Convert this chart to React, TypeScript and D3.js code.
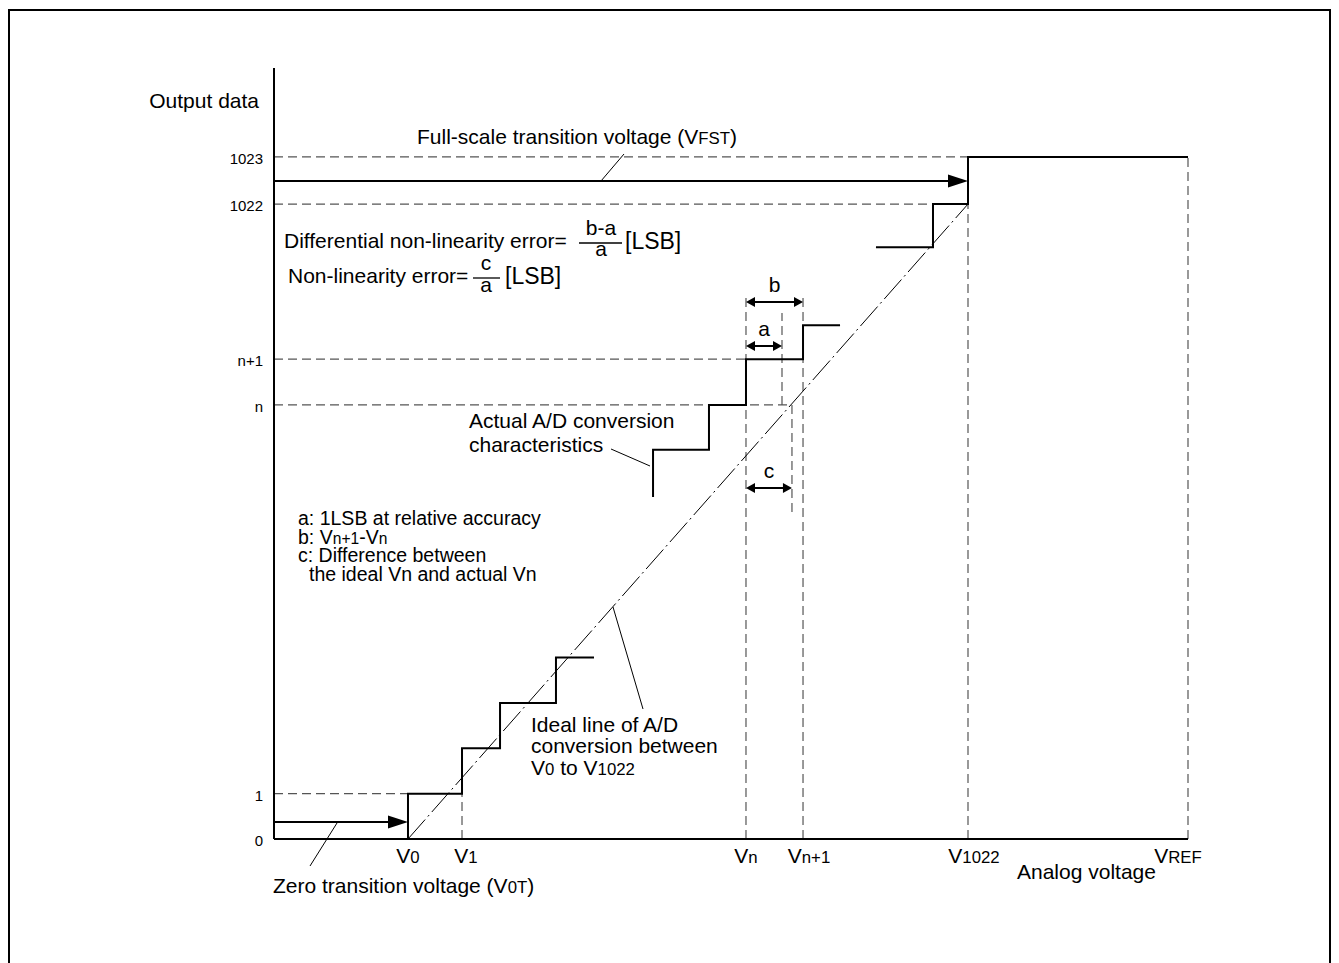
import React from 'react';
import * as d3 from 'd3';

// ---- chart units: x = analog voltage in % of VREF, y = output level (diagram steps)
const xDomain: [number, number] = [0, 100];
const yDomain: [number, number] = [0, 17];

const xTickBase = ['V', 'V', 'V', 'V', 'V', 'V'];
const xTickSubs = ['0', '1', 'n', 'n+1', '1022', 'REF'];
const xTickValues = [14.66, 20.57, 51.64, 57.88, 75.93, 100];

const yTickLabels = ['0', '1', 'n', 'n+1', '1022', '1023'];
const yTickValues = [0, 1, 9.57, 10.58, 14.0, 15.04];

// actual A/D conversion characteristic (three visible pieces)
const lowerStair: [number, number][] = [
  [14.66, 0], [14.66, 1], [20.57, 1], [20.57, 2], [24.73, 2], [24.73, 3], [30.85, 3], [30.85, 4], [35.01, 4],
];
const middleStair: [number, number][] = [
  [41.47, 7.54], [41.47, 8.58], [47.59, 8.58], [47.59, 9.57], [51.64, 9.57], [51.64, 10.58], [57.88, 10.58], [57.88, 11.33], [61.93, 11.33],
];
const upperStair: [number, number][] = [
  [65.86, 13.05], [72.1, 13.05], [72.1, 14.0], [75.93, 14.0], [75.93, 15.04], [100, 15.04],
];
// ideal line between V0 and V1022
const idealLine: [number, number][] = [[14.66, 0], [75.93, 14.0]];

// dashed guides: horizontal [y, x0, x1], vertical [x, y0, y1]
const guideH: [number, number, number][] = [
  [15.04, 0, 100], [14.0, 0, 72.1], [10.58, 0, 51.64], [9.57, 0, 56.67], [1, 0, 14.66],
];
const guideV: [number, number, number][] = [
  [20.57, 0, 1], [51.64, 0, 12.04], [57.88, 0, 12.04], [55.58, 9.57, 11.6], [56.67, 7.21, 9.57], [75.93, 0, 14.0], [100, 0, 15.04],
];
// transition-voltage arrows [y, x0, x1]
const bigArrows: [number, number, number][] = [[14.51, 0, 75.93], [0.375, 0, 14.66]];
// dimension arrows
const dimNames = ['b', 'a', 'c'];
const dimArrows: [number, number, number][] = [[11.84, 51.64, 57.88], [10.87, 51.64, 55.58], [7.74, 51.64, 56.67]];

const W = 1339;
const H = 963;
const FONT = '"Liberation Sans", Arial, Helvetica, sans-serif';

const x = d3.scaleLinear().domain(xDomain).range([274, 1188]);
const y = d3.scaleLinear().domain(yDomain).range([839, 68]);

const line = d3.line<[number, number]>().x((d) => x(d[0])).y((d) => y(d[1]));

// small label nudges for the x tick labels (layout only)
const xLabelNudge = [0, 4, 0, 6, 6, -10];

function Sub({ base, sub }: { base: string; sub: string }) {
  return (
    <>
      <tspan>{base}</tspan>
      <tspan fontSize="0.8em">{sub}</tspan>
    </>
  );
}

export default function App() {
  const dash = '9,5';
  const dashColor = '#555';

  const arrowHead = (tx: number, ty: number, dir: number, len: number, hw: number) =>
    `M${tx},${ty}L${tx - dir * len},${ty - hw}L${tx - dir * len},${ty + hw}Z`;

  return (
    <svg
      width={W}
      height={H}
      style={{ position: 'absolute', left: 0, top: 0, display: 'block', background: '#fff' }}
      fontFamily={FONT}
    >
      <rect x={9} y={10} width={1321} height={1000} fill="none" stroke="#000" strokeWidth={2} />

      {/* dashed guides */}
      {guideH.map(([yy, x0, x1], i) => (
        <line key={'h' + i} x1={x(x0)} x2={x(x1)} y1={y(yy)} y2={y(yy)} stroke={dashColor} strokeWidth={1.2} strokeDasharray={dash} />
      ))}
      {guideV.map(([xx, y0, y1], i) => (
        <line key={'v' + i} x1={x(xx)} x2={x(xx)} y1={y(y0)} y2={y(y1)} stroke={dashColor} strokeWidth={1.2} strokeDasharray={dash} />
      ))}

      {/* ideal line */}
      <path d={line(idealLine) || ''} fill="none" stroke="#000" strokeWidth={1} strokeDasharray="26,4,2,4" />

      {/* actual stairs */}
      {[lowerStair, middleStair, upperStair].map((s, i) => (
        <path key={'s' + i} d={line(s) || ''} fill="none" stroke="#000" strokeWidth={2} />
      ))}

      {/* axes */}
      <line x1={x(0)} x2={x(0)} y1={y(yDomain[1])} y2={y(0)} stroke="#000" strokeWidth={2} />
      <line x1={x(0)} x2={x(xDomain[1])} y1={y(0)} y2={y(0)} stroke="#000" strokeWidth={2} />

      {/* big arrows */}
      {bigArrows.map(([yy, x0, x1], i) => (
        <g key={'a' + i}>
          <line x1={x(x0)} x2={x(x1) - 18} y1={y(yy)} y2={y(yy)} stroke="#000" strokeWidth={2} />
          <path d={arrowHead(x(x1), y(yy), 1, 20, 6.5)} fill="#000" />
        </g>
      ))}

      {/* dimension arrows */}
      {dimArrows.map(([yy, x0, x1], i) => (
        <g key={'d' + i}>
          <line x1={x(x0) + 6} x2={x(x1) - 6} y1={y(yy)} y2={y(yy)} stroke="#000" strokeWidth={2} />
          <path d={arrowHead(x(x1), y(yy), 1, 9, 5)} fill="#000" />
          <path d={arrowHead(x(x0), y(yy), -1, 9, 5)} fill="#000" />
          <text x={(x(x0) + x(x1)) / 2} y={y(yy) - 10} fontSize={21} textAnchor="middle">{dimNames[i]}</text>
        </g>
      ))}

      {/* y tick labels */}
      {yTickLabels.map((t, i) => (
        <text key={'yt' + i} x={263} y={y(yTickValues[i]) + 7} fontSize={15} textAnchor="end">{t}</text>
      ))}
      {/* x tick labels */}
      {xTickSubs.map((s, i) => (
        <text key={'xt' + i} x={x(xTickValues[i]) + xLabelNudge[i]} y={863} fontSize={21} textAnchor="middle">
          <Sub base={xTickBase[i]} sub={s} />
        </text>
      ))}

      {/* axis titles */}
      <text x={259} y={108} fontSize={21} textAnchor="end">Output data</text>
      <text x={1017} y={879} fontSize={21}>Analog voltage</text>

      {/* annotations */}
      <text x={417} y={144} fontSize={21}>
        Full-scale transition voltage (<Sub base="V" sub="FST" />)
      </text>
      <line x1={601} y1={181} x2={624} y2={154} stroke="#000" strokeWidth={1} />

      <text x={284} y={248} fontSize={21}>Differential non-linearity error=</text>
      <text x={601} y={235} fontSize={21} textAnchor="middle">b-a</text>
      <line x1={579} x2={622} y1={243} y2={243} stroke="#000" strokeWidth={1.3} />
      <text x={601} y={256} fontSize={21} textAnchor="middle">a</text>
      <text x={625} y={249} fontSize={23}>[LSB]</text>

      <text x={288} y={283} fontSize={21}>Non-linearity error=</text>
      <text x={486} y={270} fontSize={21} textAnchor="middle">c</text>
      <line x1={473} x2={500} y1={278} y2={278} stroke="#000" strokeWidth={1.3} />
      <text x={486} y={292} fontSize={21} textAnchor="middle">a</text>
      <text x={505} y={284} fontSize={23}>[LSB]</text>

      <text x={469} y={428} fontSize={21}>Actual A/D conversion</text>
      <text x={469} y={452} fontSize={21}>characteristics</text>
      <line x1={611} y1={449} x2={650} y2={466} stroke="#000" strokeWidth={1} />

      <text x={298} y={525} fontSize={19.5}>a: 1LSB at relative accuracy</text>
      <text x={298} y={543.5} fontSize={19.5}>b: <Sub base="V" sub="n+1" />-<Sub base="V" sub="n" /></text>
      <text x={298} y={562} fontSize={19.5}>c: Difference between</text>
      <text x={309} y={580.5} fontSize={19.5}>the ideal Vn and actual Vn</text>

      <text x={531} y={732} fontSize={21}>Ideal line of A/D</text>
      <text x={531} y={753} fontSize={21}>conversion between</text>
      <text x={531} y={775} fontSize={21}>
        <Sub base="V" sub="0" /> to <Sub base="V" sub="1022" />
      </text>
      <line x1={613} y1={607} x2={643} y2={709} stroke="#000" strokeWidth={1} />

      <line x1={337} y1={823} x2={310} y2={866} stroke="#000" strokeWidth={1} />
      <text x={273} y={893} fontSize={21}>
        Zero transition voltage (<Sub base="V" sub="0T" />)
      </text>
    </svg>
  );
}
